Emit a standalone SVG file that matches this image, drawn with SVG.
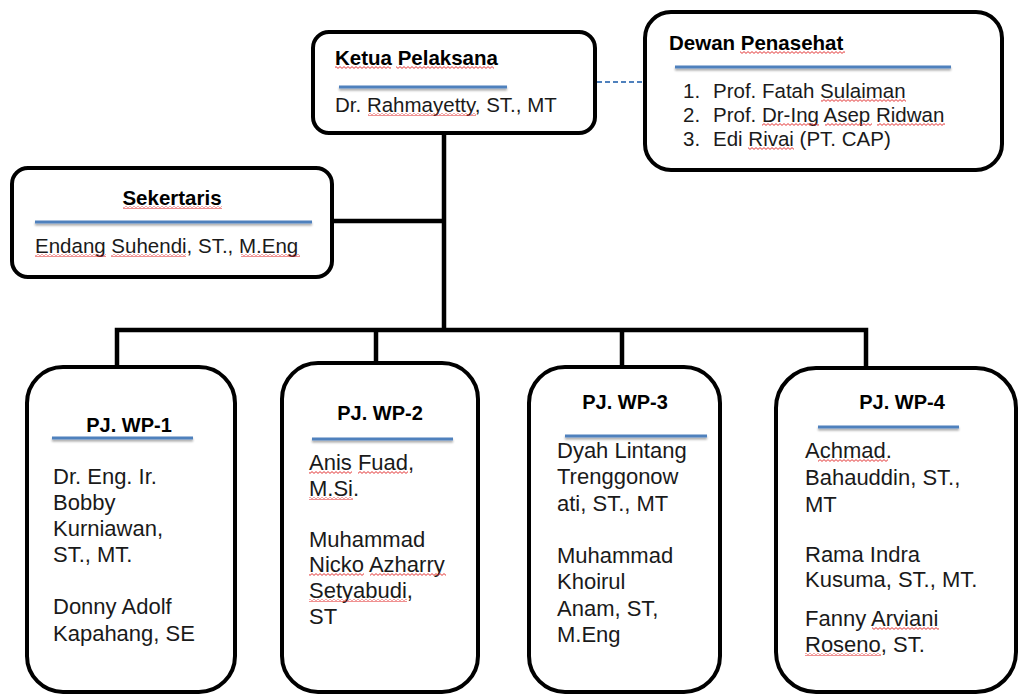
<svg xmlns="http://www.w3.org/2000/svg" width="1018" height="694" viewBox="0 0 1018 694">
  <style>
    .box { fill: #ffffff; stroke: #000000; stroke-width: 4; }
    .link { fill: none; stroke: #000000; stroke-width: 4.5; stroke-linejoin: miter; }
    .dash { fill: none; stroke: #4F81BD; stroke-width: 1.8; stroke-dasharray: 5 3; }
    .rule { fill: #4F81BD; filter: url(#ruleShadow); }
    .head { font-family: "Liberation Sans", Arial, sans-serif; font-weight: bold; font-size: 20.5px; fill: #000; }
    .wphead { font-family: "Liberation Sans", Arial, sans-serif; font-weight: bold; font-size: 20px; fill: #000; }
    .body { font-family: "Liberation Sans", Arial, sans-serif; font-size: 20.5px; fill: #1a1a1a; }
    .wp { font-family: "Liberation Sans", Arial, sans-serif; font-size: 22px; fill: #1a1a1a; }
    .sq { fill: url(#squiggle); }
  </style>
  <defs>
    <filter id="ruleShadow" x="-5%" y="-100%" width="110%" height="400%">
      <feDropShadow dx="0" dy="2" stdDeviation="1" flood-color="#000" flood-opacity="0.35"/>
    </filter>
    <!-- red wavy proofing underline -->
    <pattern id="squiggle" patternUnits="userSpaceOnUse" width="4" height="3">
      <path d="M0,0.6 L2,2.4 L4,0.6" fill="none" stroke="#e02020" stroke-width="0.9"/>
    </pattern>
  </defs>

  <!-- connectors -->
  <g id="connectors">
    <path class="link" d="M444,133 V330"/>
    <path class="link" d="M332,221 H444"/>
    <path class="link" d="M117,367 V330 H866 V368"/>
    <path class="link" d="M376,330 V363"/>
    <path class="link" d="M622,330 V367"/>
    <path class="dash" d="M597,82 H645"/>
  </g>

  <!-- Ketua Pelaksana -->
  <g id="ketua">
    <rect class="box" x="313" y="32" width="282" height="101" rx="16"/>
    <text class="head" x="335" y="65">Ketua Pelaksana</text>
    <rect class="sq" x="335" y="66" width="56" height="3"/>
    <rect class="sq" x="396" y="66" width="98" height="3"/>
    <rect class="rule" x="339" y="85.5" width="168" height="3"/>
    <text class="body" x="335" y="112">Dr. Rahmayetty, ST., MT</text>
    <rect class="sq" x="368" y="113" width="108" height="3"/>
  </g>

  <!-- Dewan Penasehat -->
  <g id="dewan">
    <rect class="box" x="645" y="12" width="357" height="158" rx="26"/>
    <text class="head" x="669" y="50">Dewan Penasehat</text>
    <rect class="sq" x="740" y="51" width="105" height="3"/>
    <rect class="rule" x="675" y="65.5" width="276" height="3"/>
    <text class="body" x="683" y="98">1.</text>
    <text class="body" x="713" y="98">Prof. Fatah Sulaiman</text>
    <rect class="sq" x="821" y="99" width="85" height="3"/>
    <text class="body" x="683" y="122">2.</text>
    <text class="body" x="713" y="122">Prof. Dr-Ing Asep Ridwan</text>
    <rect class="sq" x="762" y="123" width="57" height="3"/>
    <rect class="sq" x="825" y="123" width="47" height="3"/>
    <rect class="sq" x="877" y="123" width="68" height="3"/>
    <text class="body" x="683" y="146">3.</text>
    <text class="body" x="713" y="146">Edi Rivai (PT. CAP)</text>
    <rect class="sq" x="748" y="147" width="46" height="3"/>
  </g>

  <!-- Sekertaris -->
  <g id="sekertaris">
    <rect class="box" x="12" y="168" width="320" height="109" rx="16"/>
    <text class="head" x="172" y="205" text-anchor="middle">Sekertaris</text>
    <rect class="sq" x="123" y="206" width="99" height="3"/>
    <rect class="rule" x="35" y="220.5" width="277" height="3"/>
    <text class="body" x="35" y="253">Endang Suhendi, ST., M.Eng</text>
    <rect class="sq" x="35" y="254" width="71" height="3"/>
    <rect class="sq" x="111" y="254" width="75" height="3"/>
    <rect class="sq" x="241" y="254" width="59" height="3"/>
  </g>

  <!-- PJ. WP-1 -->
  <g id="wp1">
    <rect class="box" x="27" y="367" width="208" height="325" rx="36"/>
    <text class="wphead" x="129" y="432" text-anchor="middle">PJ. WP-1</text>
    <rect class="rule" x="52" y="436.5" width="141" height="3"/>
    <text class="wp" x="53" y="484">Dr. Eng. Ir.</text>
    <text class="wp" x="53" y="510">Bobby</text>
    <text class="wp" x="53" y="536">Kurniawan,</text>
    <text class="wp" x="53" y="562">ST., MT.</text>
    <text class="wp" x="53" y="614">Donny Adolf</text>
    <text class="wp" x="53" y="641">Kapahang, SE</text>
  </g>

  <!-- PJ. WP-2 -->
  <g id="wp2">
    <rect class="box" x="282" y="363" width="196" height="329" rx="36"/>
    <text class="wphead" x="380" y="420" text-anchor="middle">PJ. WP-2</text>
    <rect class="rule" x="312" y="437.5" width="141" height="3"/>
    <text class="wp" x="309" y="470">Anis Fuad,</text>
    <rect class="sq" x="309" y="471" width="43" height="3"/>
    <rect class="sq" x="358" y="471" width="50" height="3"/>
    <text class="wp" x="309" y="496">M.Si.</text>
    <rect class="sq" x="309" y="497" width="44" height="3"/>
    <text class="wp" x="309" y="547">Muhammad</text>
    <text class="wp" x="309" y="572">Nicko Azharry</text>
    <rect class="sq" x="309" y="573" width="55" height="3"/>
    <rect class="sq" x="370" y="573" width="76" height="3"/>
    <text class="wp" x="309" y="598">Setyabudi,</text>
    <rect class="sq" x="309" y="599" width="98" height="3"/>
    <text class="wp" x="309" y="624">ST</text>
  </g>

  <!-- PJ. WP-3 -->
  <g id="wp3">
    <rect class="box" x="529" y="367" width="191" height="325" rx="36"/>
    <text class="wphead" x="625" y="409" text-anchor="middle">PJ. WP-3</text>
    <rect class="rule" x="565" y="434.5" width="142" height="3"/>
    <text class="wp" x="557" y="458">Dyah Lintang</text>
    <text class="wp" x="557" y="484">Trenggonow</text>
    <text class="wp" x="557" y="511">ati, ST., MT</text>
    <text class="wp" x="557" y="563">Muhammad</text>
    <text class="wp" x="557" y="589">Khoirul</text>
    <text class="wp" x="557" y="616">Anam, ST,</text>
    <text class="wp" x="557" y="642">M.Eng</text>
  </g>

  <!-- PJ. WP-4 -->
  <g id="wp4">
    <rect class="box" x="776" y="368" width="240" height="324" rx="40"/>
    <text class="wphead" x="902" y="409" text-anchor="middle">PJ. WP-4</text>
    <rect class="rule" x="818" y="425.5" width="141" height="3"/>
    <text class="wp" x="805" y="458">Achmad.</text>
    <rect class="sq" x="818" y="459" width="70" height="3"/>
    <text class="wp" x="805" y="485">Bahauddin, ST.,</text>
    <text class="wp" x="805" y="512">MT</text>
    <text class="wp" x="805" y="562">Rama Indra</text>
    <text class="wp" x="805" y="587">Kusuma, ST., MT.</text>
    <text class="wp" x="805" y="626">Fanny Arviani</text>
    <rect class="sq" x="872" y="627" width="67" height="3"/>
    <text class="wp" x="805" y="652">Roseno, ST.</text>
    <rect class="sq" x="805" y="653" width="76" height="3"/>
  </g>
</svg>
